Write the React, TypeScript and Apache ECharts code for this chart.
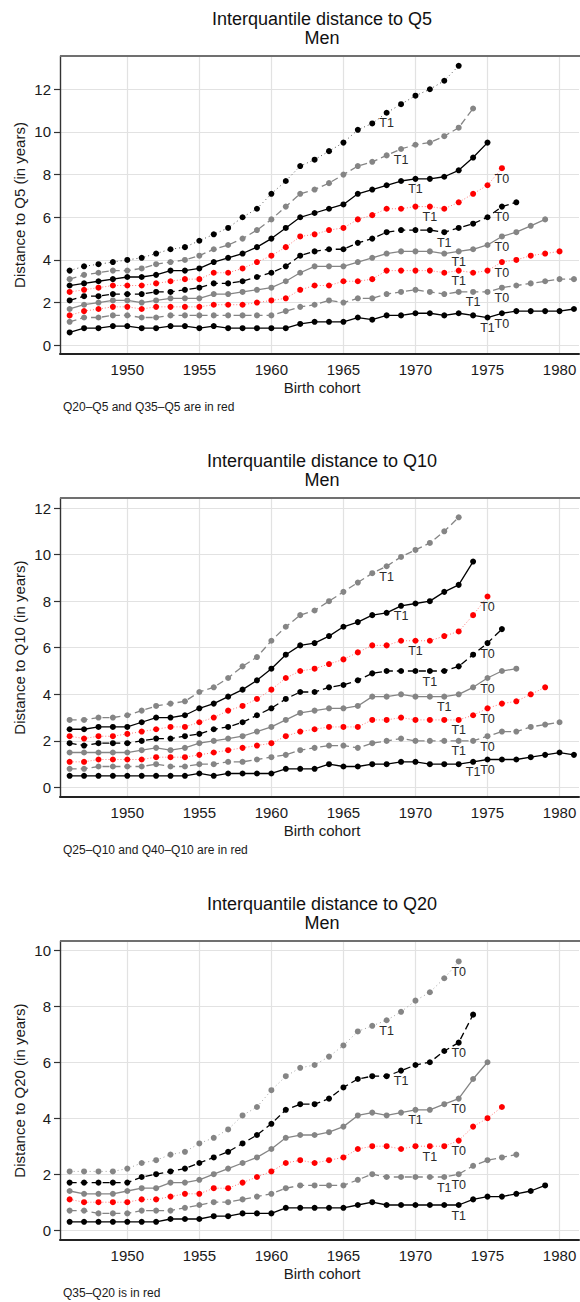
import React, { useEffect, useRef } from "react";
import * as echarts from "echarts";

// ---------- data ----------
const cohorts = [
  1946, 1947, 1948, 1949, 1950, 1951, 1952, 1953, 1954, 1955, 1956, 1957,
  1958, 1959, 1960, 1961, 1962, 1963, 1964, 1965, 1966, 1967, 1968, 1969,
  1970, 1971, 1972, 1973, 1974, 1975, 1976, 1977, 1978, 1979, 1980, 1981,
];
const xTicks = [1950, 1955, 1960, 1965, 1970, 1975, 1980];

// Panel 1: distance to Q5
const p1_q10 = [0.6,0.8,0.8,0.9,0.9,0.8,0.8,0.9,0.9,0.8,0.9,0.8,0.8,0.8,0.8,0.8,1.0,1.1,1.1,1.1,1.3,1.2,1.4,1.4,1.5,1.5,1.4,1.5,1.4,1.3,1.5,1.6,1.6,1.6,1.6,1.7];
const p1_q15 = [1.1,1.3,1.3,1.4,1.4,1.3,1.3,1.4,1.4,1.4,1.4,1.4,1.4,1.4,1.4,1.6,1.8,1.9,2.1,2.0,2.2,2.2,2.4,2.5,2.6,2.5,2.4,2.5,2.5,2.5,2.7,2.8,2.9,3.0,3.1,3.1];
const p1_q20 = [1.4,1.6,1.7,1.8,1.8,1.7,1.8,1.8,1.8,1.8,1.9,1.9,1.9,2.0,2.1,2.2,2.6,2.8,2.8,3.0,3.0,3.1,3.5,3.5,3.5,3.5,3.4,3.5,3.4,3.5,3.9,4.0,4.2,4.3,4.4];
const p1_q25 = [1.7,1.9,2.0,2.1,2.1,2.0,2.1,2.2,2.2,2.2,2.4,2.4,2.5,2.6,2.7,3.0,3.4,3.7,3.7,3.7,3.9,4.1,4.3,4.4,4.4,4.4,4.3,4.4,4.5,4.7,5.1,5.3,5.6,5.9];
const p1_q30 = [2.1,2.3,2.3,2.4,2.4,2.4,2.5,2.5,2.6,2.7,2.9,2.9,3.0,3.2,3.4,3.7,4.2,4.4,4.5,4.5,4.8,5.0,5.3,5.4,5.4,5.4,5.3,5.5,5.7,6.0,6.5,6.7];
const p1_q35 = [2.5,2.6,2.7,2.8,2.8,2.8,2.9,3.0,3.1,3.1,3.4,3.4,3.6,3.9,4.2,4.6,5.1,5.2,5.4,5.5,5.9,6.1,6.4,6.4,6.5,6.5,6.4,6.7,7.1,7.5,8.3];
const p1_q40 = [2.8,2.9,3.0,3.1,3.2,3.2,3.3,3.5,3.5,3.6,3.9,4.1,4.3,4.6,5.0,5.5,6.0,6.2,6.4,6.6,7.1,7.3,7.5,7.7,7.8,7.8,7.9,8.2,8.8,9.5];
const p1_q45 = [3.1,3.3,3.4,3.5,3.5,3.6,3.8,3.9,4.0,4.2,4.5,4.7,5.0,5.4,5.9,6.5,7.1,7.3,7.6,8.0,8.4,8.6,8.9,9.2,9.4,9.5,9.8,10.2,11.1];
const p1_q50 = [3.5,3.7,3.8,3.9,4.0,4.1,4.3,4.5,4.6,4.9,5.2,5.5,6.0,6.4,7.1,7.7,8.4,8.7,9.1,9.5,10.1,10.4,10.9,11.3,11.7,12.0,12.4,13.1];

// Panel 2: distance to Q10
const p2_q15 = [0.5,0.5,0.5,0.5,0.5,0.5,0.5,0.5,0.5,0.6,0.5,0.6,0.6,0.6,0.6,0.8,0.8,0.8,1.0,0.9,0.9,1.0,1.0,1.1,1.1,1.0,1.0,1.0,1.1,1.2,1.2,1.2,1.3,1.4,1.5,1.4];
const p2_q20 = [0.8,0.8,0.9,0.9,0.9,0.9,1.0,0.9,0.9,1.0,1.0,1.1,1.1,1.2,1.3,1.4,1.6,1.7,1.8,1.8,1.7,1.9,2.0,2.1,2.0,2.0,2.0,2.0,2.0,2.2,2.4,2.4,2.6,2.7,2.8];
const p2_q25 = [1.1,1.1,1.2,1.2,1.2,1.2,1.3,1.3,1.3,1.4,1.5,1.6,1.7,1.8,1.9,2.2,2.4,2.5,2.6,2.6,2.6,2.9,2.9,3.0,2.9,2.9,2.9,2.9,3.1,3.4,3.6,3.7,4.0,4.3];
const p2_q30 = [1.5,1.5,1.5,1.5,1.5,1.6,1.7,1.6,1.7,1.9,2.0,2.1,2.2,2.4,2.6,2.9,3.2,3.3,3.4,3.4,3.5,3.9,3.9,4.0,3.9,3.9,3.9,4.0,4.3,4.7,5.0,5.1];
const p2_q35 = [1.9,1.8,1.9,1.9,1.9,2.0,2.1,2.1,2.2,2.3,2.5,2.6,2.8,3.1,3.4,3.8,4.1,4.1,4.3,4.4,4.6,4.9,5.0,5.0,5.0,5.0,5.0,5.2,5.7,6.2,6.8];
const p2_q40 = [2.2,2.1,2.2,2.2,2.3,2.4,2.5,2.6,2.6,2.8,3.0,3.3,3.5,3.8,4.2,4.7,5.0,5.1,5.3,5.5,5.8,6.1,6.1,6.3,6.3,6.3,6.5,6.7,7.4,8.2];
const p2_q45 = [2.5,2.5,2.6,2.6,2.6,2.8,3.0,3.0,3.1,3.4,3.6,3.9,4.2,4.6,5.1,5.7,6.1,6.2,6.5,6.9,7.1,7.4,7.5,7.8,7.9,8.0,8.4,8.7,9.7];
const p2_q50 = [2.9,2.9,3.0,3.0,3.1,3.3,3.5,3.6,3.7,4.1,4.3,4.7,5.2,5.6,6.3,6.9,7.4,7.6,8.0,8.4,8.8,9.2,9.5,9.9,10.2,10.5,11.0,11.6];

// Panel 3: distance to Q20
const p3_q25 = [0.3,0.3,0.3,0.3,0.3,0.3,0.3,0.4,0.4,0.4,0.5,0.5,0.6,0.6,0.6,0.8,0.8,0.8,0.8,0.8,0.9,1.0,0.9,0.9,0.9,0.9,0.9,0.9,1.1,1.2,1.2,1.3,1.4,1.6];
const p3_q30 = [0.7,0.7,0.6,0.6,0.6,0.7,0.7,0.7,0.8,0.9,1.0,1.0,1.1,1.2,1.3,1.5,1.6,1.6,1.6,1.6,1.8,2.0,1.9,1.9,1.9,1.9,1.9,2.0,2.3,2.5,2.6,2.7];
const p3_q35 = [1.1,1.0,1.0,1.0,1.0,1.1,1.1,1.2,1.3,1.3,1.5,1.5,1.7,1.9,2.1,2.4,2.5,2.4,2.5,2.6,2.9,3.0,3.0,2.9,3.0,3.0,3.0,3.2,3.7,4.0,4.4];
const p3_q40 = [1.4,1.3,1.3,1.3,1.4,1.5,1.5,1.7,1.7,1.8,2.0,2.2,2.4,2.6,2.9,3.3,3.4,3.4,3.5,3.7,4.1,4.2,4.1,4.2,4.3,4.3,4.5,4.7,5.4,6.0];
const p3_q45 = [1.7,1.7,1.7,1.7,1.7,1.9,2.0,2.1,2.2,2.4,2.6,2.8,3.1,3.4,3.8,4.3,4.5,4.5,4.7,5.1,5.4,5.5,5.5,5.7,5.9,6.0,6.4,6.7,7.7];
const p3_q50 = [2.1,2.1,2.1,2.1,2.2,2.4,2.5,2.7,2.8,3.1,3.3,3.6,4.1,4.4,5.0,5.5,5.8,5.9,6.2,6.6,7.1,7.3,7.5,7.8,8.2,8.5,9.0,9.6];

// Label cohorts (T1 / T0) for each series, in the same order as the value arrays
const p1_t1 = [1975, 1974, 1973, 1973, 1972, 1971, 1970, 1969, 1968];
const p1_t0 = [1976, 1976, 1976, 1976, 1976, 1976, 0, 0, 0];
const p2_t1 = [1974, 1973, 1973, 1972, 1971, 1970, 1969, 1968];
const p2_t0 = [1975, 1975, 1975, 1975, 1975, 1975, 0, 0];
const p3_t1 = [1973, 1972, 1971, 1970, 1969, 1968];
const p3_t0 = [0, 1973, 1973, 1973, 1973, 1973];

const yTicks1 = [0, 2, 4, 6, 8, 10, 12];
const yTicks2 = [0, 2, 4, 6, 8, 10, 12];
const yTicks3 = [0, 2, 4, 6, 8, 10];

// ---------- styles ----------
const FONT = '"Liberation Sans", Arial, Helvetica, sans-serif';
const BLACK = "#000000";
const GRAY = "#858585";
const RED = "#ff0000";

type Sty = { mark: string; line: string; type: any; width: number; opacity: number };
const S_BLACK_SOLID: Sty = { mark: BLACK, line: BLACK, type: "solid", width: 1.3, opacity: 1 };
const S_GRAY_DASH: Sty = { mark: GRAY, line: GRAY, type: [7, 4], width: 1.3, opacity: 1 };
const S_RED_DOT: Sty = { mark: RED, line: "#ff5050", type: [1, 2], width: 1, opacity: 0.75 };
const S_GRAY_SOLID: Sty = { mark: GRAY, line: GRAY, type: "solid", width: 1.3, opacity: 1 };
const S_BLACK_DASH: Sty = { mark: BLACK, line: BLACK, type: [7, 4], width: 1.3, opacity: 1 };
const S_BLACK_DOT: Sty = { mark: BLACK, line: "#555555", type: [1, 3], width: 1, opacity: 1 };
const S_GRAY_DOT: Sty = { mark: GRAY, line: "#a0a0a0", type: [1, 3], width: 1, opacity: 1 };

const panels = [
  {
    series: [p1_q10, p1_q15, p1_q20, p1_q25, p1_q30, p1_q35, p1_q40, p1_q45, p1_q50],
    styles: [S_BLACK_SOLID, S_GRAY_DASH, S_RED_DOT, S_GRAY_SOLID, S_BLACK_DASH, S_RED_DOT, S_BLACK_SOLID, S_GRAY_DASH, S_BLACK_DOT],
    t1: p1_t1, t0: p1_t0, yTicks: yTicks1,
    title: "Interquantile distance to Q5", yName: "Distance to Q5 (in years)",
    note: "Q20\u2013Q5 and Q35\u2013Q5 are in red",
    top: 56, height: 298, ymin: -0.41, ymax: 13.56,
  },
  {
    series: [p2_q15, p2_q20, p2_q25, p2_q30, p2_q35, p2_q40, p2_q45, p2_q50],
    styles: [S_BLACK_SOLID, S_GRAY_DASH, S_RED_DOT, S_GRAY_SOLID, S_BLACK_DASH, S_RED_DOT, S_BLACK_SOLID, S_GRAY_DASH],
    t1: p2_t1, t0: p2_t0, yTicks: yTicks2,
    title: "Interquantile distance to Q10", yName: "Distance to Q10 (in years)",
    note: "Q25\u2013Q10 and Q40\u2013Q10 are in red",
    top: 498, height: 299, ymin: -0.41, ymax: 12.43,
  },
  {
    series: [p3_q25, p3_q30, p3_q35, p3_q40, p3_q45, p3_q50],
    styles: [S_BLACK_SOLID, S_GRAY_DASH, S_RED_DOT, S_GRAY_SOLID, S_BLACK_DASH, S_GRAY_DOT],
    t1: p3_t1, t0: p3_t0, yTicks: yTicks3,
    title: "Interquantile distance to Q20", yName: "Distance to Q20 (in years)",
    note: "Q35\u2013Q20 is in red",
    top: 941, height: 299, ymin: -0.35, ymax: 10.33,
  },
];

const GRID_LEFT = 60;
const GRID_RIGHT = 1;
const XMIN = 1945.33;
const XMAX = 1981.35;

function buildOption() {
  const grid: any[] = [];
  const xAxis: any[] = [];
  const yAxis: any[] = [];
  const series: any[] = [];
  const graphic: any[] = [];
  const cx = 322;

  panels.forEach((p, pi) => {
    grid.push({ left: GRID_LEFT, right: GRID_RIGHT, top: p.top, height: p.height, containLabel: false });
    xAxis.push({
      type: "value", gridIndex: pi, position: "bottom", min: XMIN, max: XMAX,
      axisLine: { show: true, onZero: false, lineStyle: { color: "#222", width: 2 } },
      axisTick: { show: false, customValues: xTicks },
      axisLabel: {
        show: true, customValues: xTicks, fontSize: 15, color: "#1a1a1a", fontFamily: FONT, margin: 8,
        formatter: (v: number) => String(v),
      },
      splitLine: { show: true, lineStyle: { color: "#e2e2e2", width: 1.2 } },
    });
    yAxis.push({
      type: "value", gridIndex: pi, min: p.ymin, max: p.ymax,
      axisLine: { show: true, onZero: false, lineStyle: { color: "#333", width: 1.4 } },
      axisTick: { show: true, length: 6, customValues: p.yTicks, lineStyle: { color: "#333", width: 1.2 } },
      axisLabel: {
        show: true, customValues: p.yTicks, fontSize: 15, color: "#1a1a1a", fontFamily: FONT, margin: 9,
        formatter: (v: number) => String(v),
      },
      splitLine: { show: true, lineStyle: { color: "#e2e2e2", width: 1.2 } },
    });

    p.series.forEach((vals, si) => {
      const st = p.styles[si];
      const t1 = p.t1[si];
      const t0 = p.t0[si];
      const data = vals.map((v, i) => {
        const year = cohorts[i];
        const item: any = { value: [year, v] };
        const lab = year === t1 ? "T1" : year === t0 ? "T0" : null;
        if (lab) {
          item.label = {
            show: true, formatter: lab, position: "bottom", distance: 1,
            fontSize: 12.5, color: "#2a2a2a", fontFamily: FONT,
          };
        }
        return item;
      });
      series.push({
        type: "line", xAxisIndex: pi, yAxisIndex: pi, data,
        symbol: "circle", symbolSize: 6, showSymbol: true,
        itemStyle: { color: st.mark },
        lineStyle: { color: st.line, type: st.type, width: st.width, opacity: st.opacity },
        label: { show: false }, silent: true, z: 2 + si,
      });
    });

    const gTop = p.top;
    const gBottom = p.top + p.height;
    // top frame line
    graphic.push({
      type: "line", silent: true, z: 10,
      shape: { x1: GRID_LEFT, y1: gTop, x2: 580, y2: gTop },
      style: { stroke: "#707070", lineWidth: 2 },
    });
    graphic.push({
      type: "text", silent: true, x: cx, y: gTop - 37,
      style: { text: p.title, fill: "#111", font: `18px ${FONT}`, align: "center", verticalAlign: "middle" },
    });
    graphic.push({
      type: "text", silent: true, x: cx, y: gTop - 18,
      style: { text: "Men", fill: "#111", font: `18px ${FONT}`, align: "center", verticalAlign: "middle" },
    });
    graphic.push({
      type: "text", silent: true, x: 19, y: (gTop + gBottom) / 2, rotation: Math.PI / 2,
      style: { text: p.yName, fill: "#1a1a1a", font: `15px ${FONT}`, align: "center", verticalAlign: "middle" },
    });
    graphic.push({
      type: "text", silent: true, x: cx, y: gBottom + 33,
      style: { text: "Birth cohort", fill: "#1a1a1a", font: `15px ${FONT}`, align: "center", verticalAlign: "middle" },
    });
    graphic.push({
      type: "text", silent: true, x: 63, y: gBottom + 53,
      style: { text: p.note, fill: "#1a1a1a", font: `12px ${FONT}`, align: "left", verticalAlign: "middle" },
    });
  });

  return {
    animation: false,
    backgroundColor: "#ffffff",
    textStyle: { fontFamily: FONT },
    grid, xAxis, yAxis, series, graphic,
  };
}

export default function App() {
  const ref = useRef<HTMLDivElement | null>(null);
  useEffect(() => {
    document.body.style.margin = "0";
    if (!ref.current) return;
    const chart = echarts.init(ref.current, null, { renderer: "svg" });
    chart.setOption(buildOption() as any);
    return () => chart.dispose();
  }, []);
  return <div ref={ref} style={{ width: 580, height: 1302 }} />;
}
